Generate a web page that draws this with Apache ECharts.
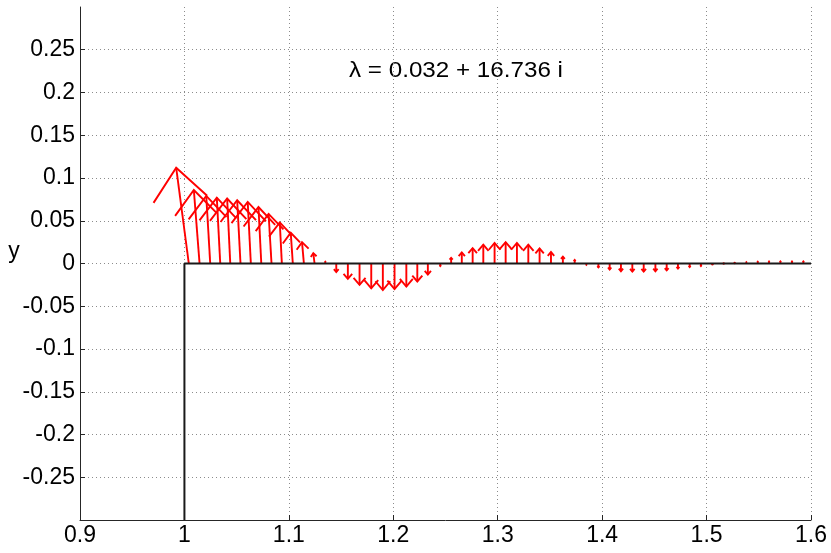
<!DOCTYPE html>
<html><head><meta charset="utf-8">
<script src="https://cdn.jsdelivr.net/npm/echarts@6/dist/echarts.min.js"></script>
<style>html,body{margin:0;padding:0;background:#fff}#c{width:831px;height:553px}</style>
</head><body><div id="c"></div>
<script>
// Arrow origins on the baseline (x), horizontal and vertical components of each arrow
const xOrigin = [1.0042,1.0145,1.0247,1.0343,1.0439,1.0537,1.0636,1.0736,1.0834,1.0933,
  1.1038,1.1144,1.1246,1.1349,1.1454,1.1565,1.1677,1.1789,1.1900,1.2012,
  1.2125,1.2230,1.2331,1.2450,1.2554,1.2656,1.2760,1.2862,1.2970,1.3076,
  1.3184,1.3293,1.3401,1.3510,1.3624,1.3737,1.3849,1.3964,1.4072,1.4180,
  1.4289,1.4398,1.4510,1.4618,1.4726,1.4838,1.4946,1.5056,1.5164,1.5269,
  1.5381,1.5490,1.5598,1.5707,1.5818,1.5927];
const uComp = [-0.0121,-0.0055,-0.0038,-0.0033,-0.0030,-0.0032,-0.0030,-0.0027,-0.0028,-0.0020,
  -0.0020,-0.0018,-0.0012,0,0,0,0,0,0,0,
  0,0,0,0,0,0,0,0,0,0,
  0,0,0,0,0,0,0,0,0,0,
  0,0,0,0,0,0,0,0,0,0,
  0,0,0,0,0,0];
const vComp = [0.112,0.086,0.079,0.077,0.076,0.074,0.072,0.066,0.058,0.048,
  0.036,0.025,0.012,0.002,-0.010,-0.018,-0.025,-0.029,-0.031,-0.030,
  -0.027,-0.021,-0.013,-0.003,0.0066,0.013,0.018,0.022,0.024,0.025,
  0.024,0.022,0.0175,0.0135,0.008,0.004,-0.0015,-0.0045,-0.007,-0.009,
  -0.0095,-0.0095,-0.009,-0.008,-0.006,-0.004,-0.003,-0.001,0,0.0005,
  0.0015,0.002,0.0023,0.0025,0.0025,0.0025];
// Black boundary line
const boundaryX = [1, 1, 1.6];
const boundaryY = [-0.3, 0, 0];
const titleText = 'λ = 0.032 + 16.736 i';
const yName = 'y';

const FONT = '"Liberation Sans", Arial, sans-serif';
const chart = echarts.init(document.getElementById('c'), null, {renderer:'canvas'});

function renderArrow(params, api){
  const x0 = api.value(0), u = api.value(1), v = api.value(2);
  const p0 = api.coord([x0, 0]);
  const p1 = api.coord([x0 + u, v]);
  const dx = p1[0]-p0[0], dy = p1[1]-p0[1];
  const L = Math.hypot(dx, dy);
  const style = {stroke:'#ff0000', lineWidth:1.9, fill:null, lineJoin:'miter'};
  if (L < 1.2) {
    return {type:'circle', shape:{cx:p1[0], cy:p1[1], r:1.2}, style:{fill:'#ff0000'}};
  }
  const bx = -dx/L, by = -dy/L;
  const px = -by, py = bx;
  const a = 0.33, b = 0.28;
  const w1 = [p1[0] + L*(a*bx + b*px), p1[1] + L*(a*by + b*py)];
  const w2 = [p1[0] + L*(a*bx - b*px), p1[1] + L*(a*by - b*py)];
  return {type:'group', children:[
    {type:'polyline', shape:{points:[p0, p1]}, style:style},
    {type:'polyline', shape:{points:[w1, p1, w2]}, style:style}
  ]};
}

const arrowData = xOrigin.map((x, i) => [x, uComp[i], vComp[i]]);
const boundaryData = boundaryX.map((x, i) => [x, boundaryY[i]]);

chart.setOption({
  animation:false,
  backgroundColor:'#ffffff',
  grid:{left:80, right:20, top:7, bottom:33, containLabel:false, outerBoundsMode:'none'},
  xAxis:{
    type:'value', min:0.9, max:1.6, interval:0.1,
    axisLine:{show:true, onZero:false, lineStyle:{color:'#262626', width:1}},
    axisTick:{show:true, inside:true, length:5, lineStyle:{color:'#262626'}},
    axisLabel:{color:'#000', fontSize:23, fontFamily:FONT, margin:4},
    splitLine:{show:true, showMinLine:false, lineStyle:{color:'#8c8c8c', type:[1,3], width:1}}
  },
  yAxis:{
    type:'value', min:-0.3, max:0.3, interval:0.05,
    axisLine:{show:true, onZero:false, lineStyle:{color:'#262626', width:1}},
    axisTick:{show:true, inside:true, length:5, lineStyle:{color:'#262626'}},
    axisLabel:{color:'#000', fontSize:23, fontFamily:FONT, margin:5, showMinLabel:false, showMaxLabel:false},
    splitLine:{show:true, showMinLine:false, showMaxLine:false, lineStyle:{color:'#8c8c8c', type:[1,3], width:1}}
  },
  graphic:[
    {type:'text', x:456, y:71, scaleX:1.1, style:{text:titleText, textAlign:'center', textVerticalAlign:'middle', fill:'#000', font:'22px ' + FONT}},
    {type:'text', x:14, y:252, style:{text:yName, textAlign:'center', textVerticalAlign:'middle', fill:'#000', font:'23px ' + FONT}}
  ],
  series:[
    {type:'custom', renderItem:renderArrow, data:arrowData, encode:{x:0, y:2}, clip:false, z:2, silent:true},
    {type:'line', data:boundaryData, symbol:'none', lineStyle:{color:'#1a1a1a', width:2}, z:3, silent:true}
  ]
});
</script></body></html>
